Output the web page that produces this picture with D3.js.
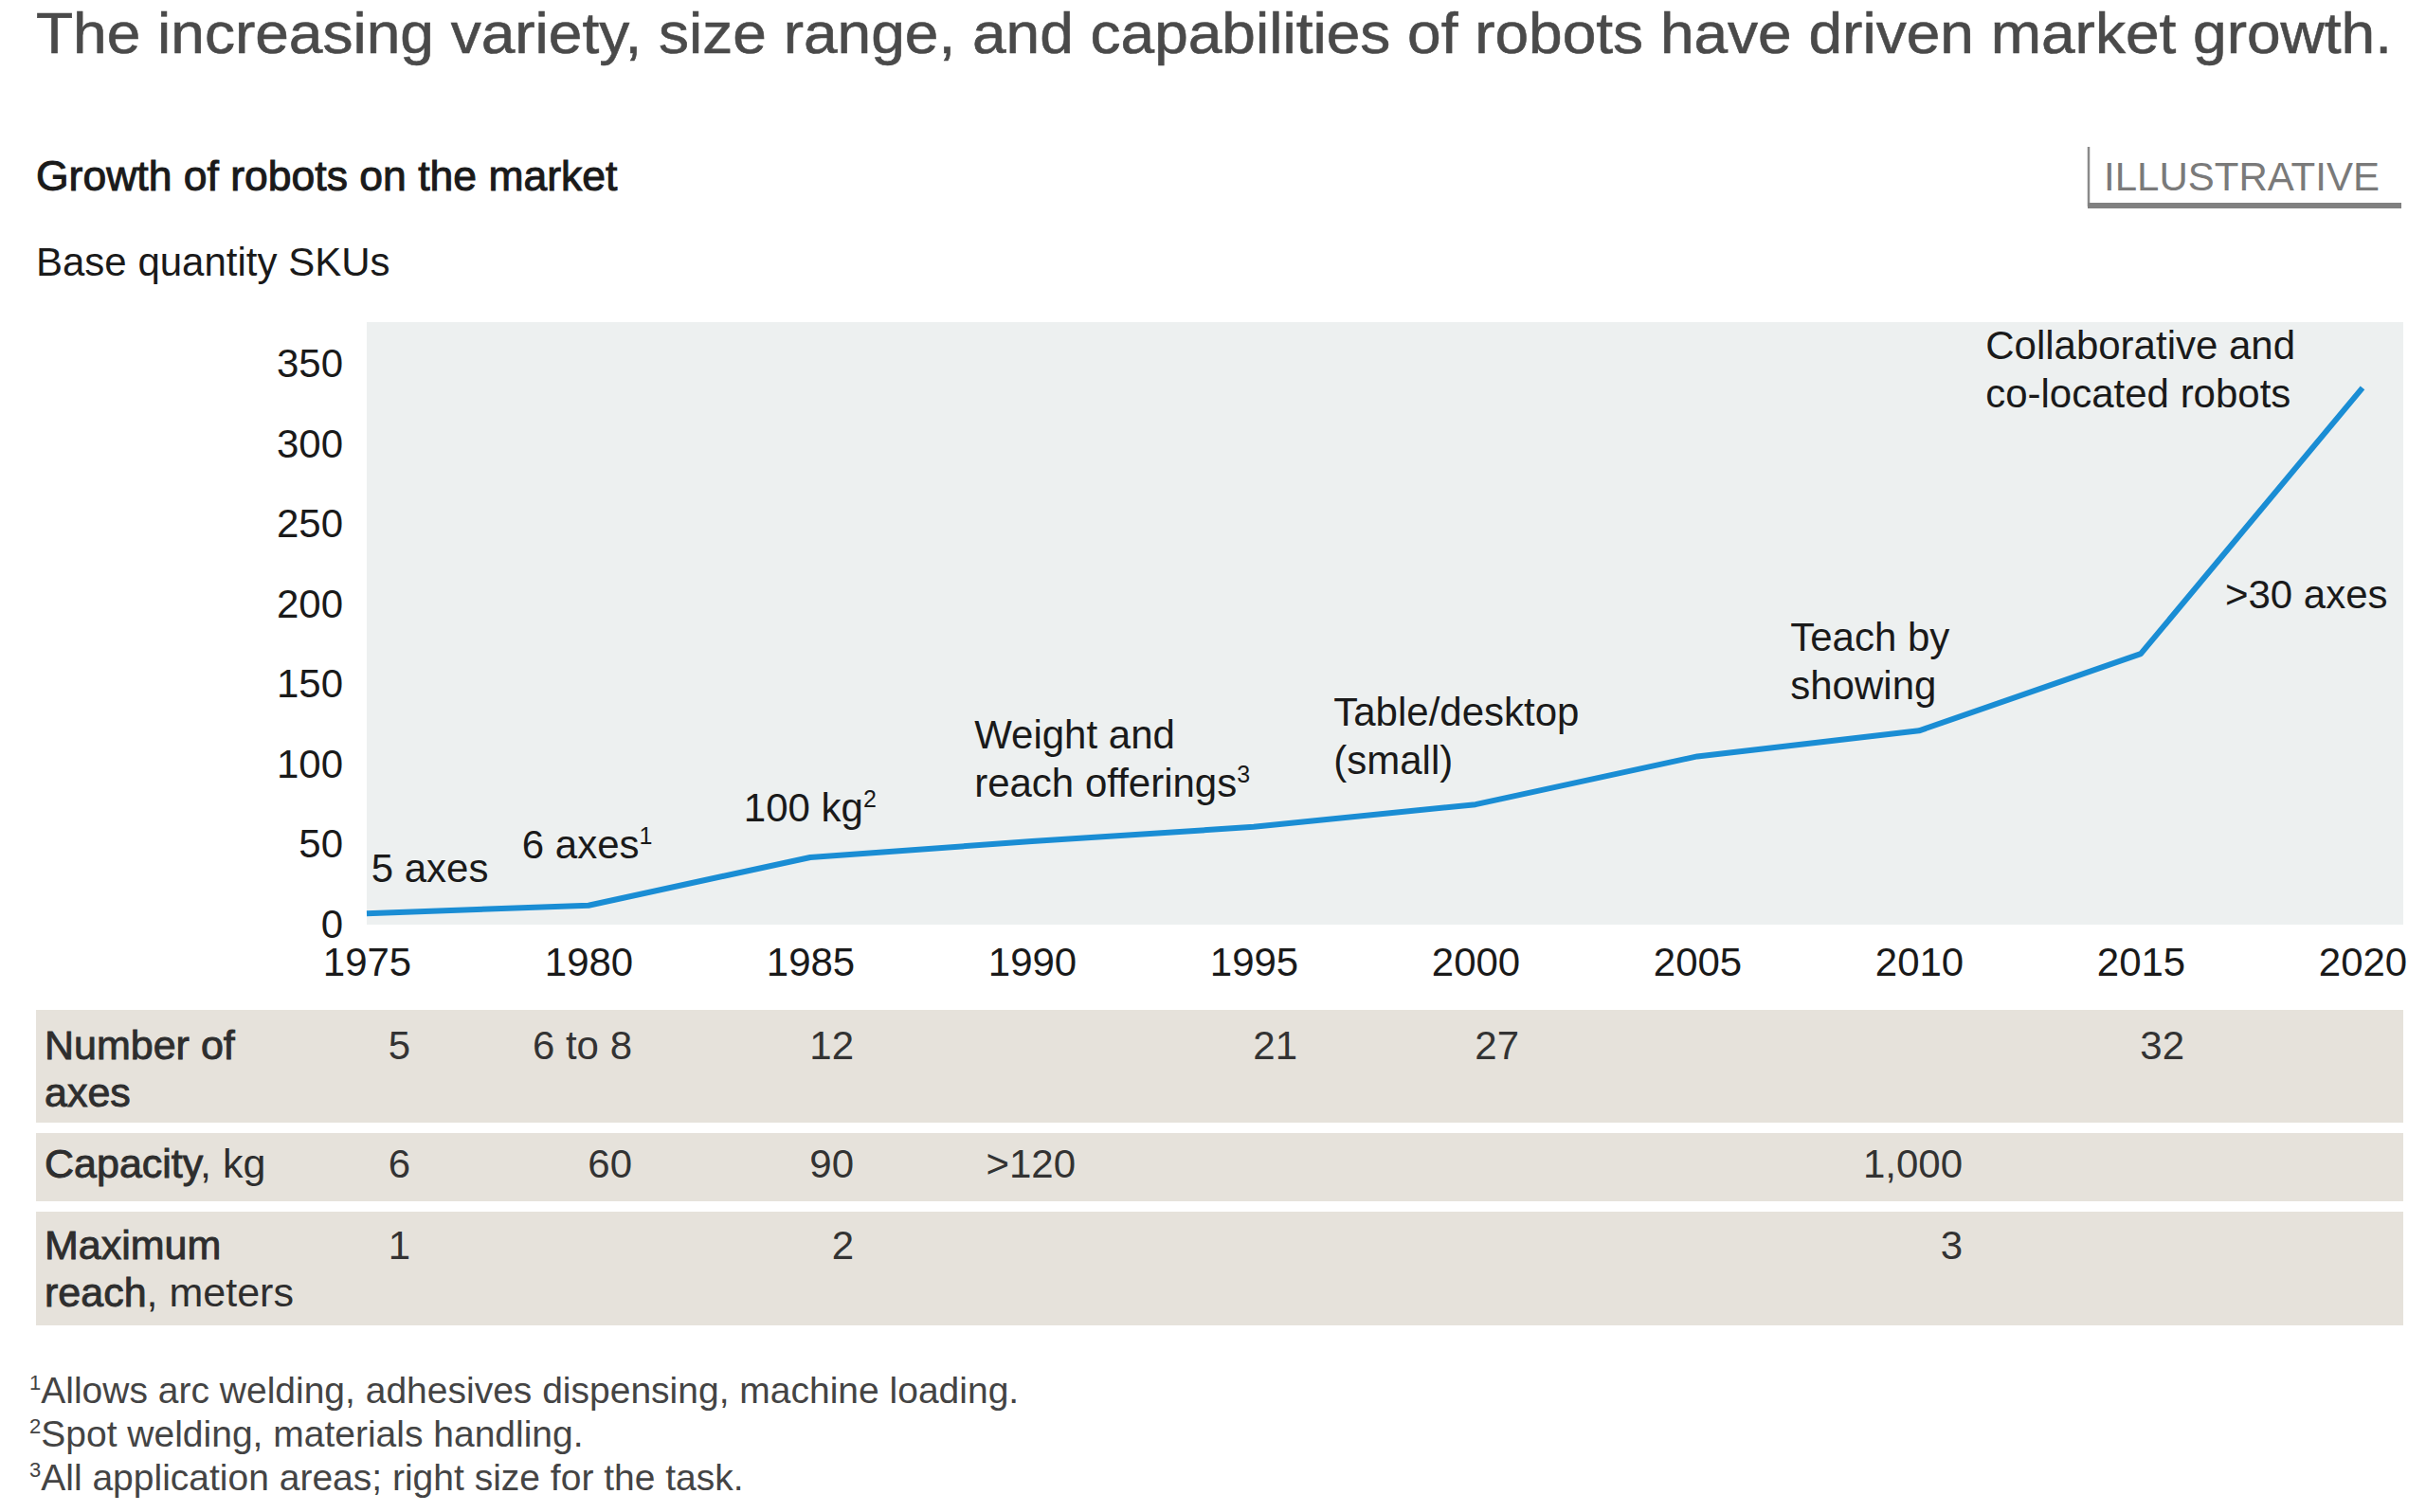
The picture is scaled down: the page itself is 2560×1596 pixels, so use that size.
<!DOCTYPE html>
<html>
<head>
<meta charset="utf-8">
<script src="https://cdn.jsdelivr.net/npm/d3@7"></script>
<style>
    body { margin: 0; background: #fff; }
    svg text { font-family: "Liberation Sans", Arial, Helvetica, sans-serif; }
</style>
</head>
<body>
<div id="chart"></div>
<script>
const years = [1975, 1980, 1985, 1990, 1995, 2000, 2005, 2010, 2015, 2020];
const skuCounts = [7, 12, 42, 52, 61, 75, 105, 121, 169, 335];
const yTicks = [0, 50, 100, 150, 200, 250, 300, 350];

const noteTexts = [
    { lines: ["5 axes"] },
    { lines: ["6 axes"], sup: "1" },
    { lines: ["100 kg"], sup: "2" },
    { lines: ["Weight and", "reach offerings"], sup: "3" },
    { lines: ["Table/desktop", "(small)"] },
    { lines: ["Teach by", "showing"] },
    { lines: [">30 axes"] },
    { lines: ["Collaborative and", "co-located robots"] }
];

const rowLabels = [
    [["Number of"], ["axes"]],
    [["Capacity", ", kg"]],
    [["Maximum"], ["reach", ", meters"]]
];
const axesCount = [[1975, "5"], [1980, "6 to 8"], [1985, "12"], [1995, "21"], [2000, "27"], [2015, "32"]];
const capacityKg = [[1975, "6"], [1980, "60"], [1985, "90"], [1990, ">120"], [2010, "1,000"]];
const reachMeters = [[1975, "1"], [1985, "2"], [2010, "3"]];

const footnotes = [
    ["1", "Allows arc welding, adhesives dispensing, machine loading."],
    ["2", "Spot welding, materials handling."],
    ["3", "All application areas; right size for the task."]
];

class RobotChart {
    constructor(_parentElement) {
        this.parentElement = _parentElement;
        this.initVis();
    }

    initVis() {
        const vis = this;
        vis.WIDTH = 2560;
        vis.HEIGHT = 1596;

        vis.svg = d3.select(vis.parentElement).append("svg")
            .attr("width", vis.WIDTH)
            .attr("height", vis.HEIGHT);

        vis.svg.append("rect")
            .attr("width", vis.WIDTH)
            .attr("height", vis.HEIGHT)
            .attr("fill", "#fff");

        // headings
        vis.svg.append("text")
            .attr("x", 38)
            .attr("y", 56)
            .attr("font-size", "61px")
            .attr("fill", "#4a4a4a")
            .attr("stroke", "#4a4a4a")
            .attr("stroke-width", 0.6)
            .attr("textLength", 2486)
            .attr("lengthAdjust", "spacingAndGlyphs")
            .text("The increasing variety, size range, and capabilities of robots have driven market growth.");

        vis.svg.append("text")
            .attr("x", 38)
            .attr("y", 201)
            .attr("font-size", "44.5px")
            .attr("fill", "#1a1a1a")
            .attr("stroke", "#1a1a1a")
            .attr("stroke-width", 1)
            .text("Growth of robots on the market");

        vis.svg.append("text")
            .attr("x", 38)
            .attr("y", 291)
            .attr("font-size", "42px")
            .attr("fill", "#1a1a1a")
            .text("Base quantity SKUs");

        const tag = vis.svg.append("g");
        tag.append("line")
            .attr("x1", 2204).attr("x2", 2204)
            .attr("y1", 155).attr("y2", 218)
            .attr("stroke", "#8a8a8a")
            .attr("stroke-width", 2.5);
        tag.append("line")
            .attr("x1", 2203).attr("x2", 2534)
            .attr("y1", 217).attr("y2", 217)
            .attr("stroke", "#808080")
            .attr("stroke-width", 6);
        tag.append("text")
            .attr("x", 2220)
            .attr("y", 201)
            .attr("font-size", "42px")
            .attr("fill", "#7a7a7a")
            .text("ILLUSTRATIVE");

        vis.x = d3.scaleLinear()
            .domain([1975, 2020])
            .range([387, 2493]);

        vis.y = d3.scaleLinear()
            .domain([0, 350])
            .range([976, 384]);

        vis.svg.append("rect")
            .attr("x", vis.x(1975))
            .attr("y", 340)
            .attr("width", 2536 - vis.x(1975))
            .attr("height", vis.y(0) - 340)
            .attr("fill", "#edf0f0");

        vis.drawAxes();
        vis.drawLine();
        vis.drawNotes();
        vis.drawTable();
        vis.drawFootnotes();
    }

    drawAxes() {
        const vis = this;

        const xAxisCall = d3.axisBottom(vis.x)
            .tickValues(years)
            .tickFormat(d3.format("d"))
            .tickSize(0)
            .tickPadding(24);
        const xAxisGroup = vis.svg.append("g")
            .attr("transform", `translate(0, ${vis.y(0)})`)
            .call(xAxisCall);

        const yAxisCall = d3.axisLeft(vis.y)
            .tickValues(yTicks)
            .tickSize(0)
            .tickPadding(25);
        const yAxisGroup = vis.svg.append("g")
            .attr("transform", `translate(${vis.x(1975)}, 0)`)
            .call(yAxisCall);

        [xAxisGroup, yAxisGroup].forEach(g => {
            g.select(".domain").remove();
            g.selectAll("text")
                .attr("font-size", "42px")
                .attr("font-family", "Liberation Sans, Arial, sans-serif")
                .attr("fill", "#1a1a1a");
        });
    }

    drawLine() {
        const vis = this;
        const points = years.map((yr, i) => [yr, skuCounts[i]]);

        const line = d3.line()
            .x(d => vis.x(d[0]))
            .y(d => vis.y(d[1]));

        vis.svg.append("path")
            .datum(points)
            .attr("d", line)
            .attr("fill", "none")
            .attr("stroke", "#1a8dd4")
            .attr("stroke-width", 6)
            .attr("stroke-linejoin", "round");
    }

    drawNotes() {
        const vis = this;
        // anchor of each note: [year, value at first baseline]
        const notePlacement = [
            [1975.1, 26.6], [1978.5, 41.4], [1983.5, 64.4], [1988.7, 110],
            [1996.8, 124], [2007.1, 171], [2016.9, 197.5], [2011.5, 353]
        ];

        noteTexts.forEach((note, i) => {
            const t = vis.svg.append("text")
                .attr("x", vis.x(notePlacement[i][0]))
                .attr("y", vis.y(notePlacement[i][1]))
                .attr("font-size", "42px")
                .attr("fill", "#1a1a1a");
            note.lines.forEach((ln, j) => {
                t.append("tspan")
                    .attr("x", vis.x(notePlacement[i][0]))
                    .attr("dy", j === 0 ? 0 : 51)
                    .text(ln);
            });
            if (note.sup) {
                t.append("tspan")
                    .attr("dy", -15)
                    .attr("font-size", "25px")
                    .text(note.sup);
            }
        });
    }

    drawTable() {
        const vis = this;
        const bands = [
            { y: 1066, h: 119, base: 1118 },
            { y: 1196, h: 72, base: 1243 },
            { y: 1279, h: 120, base: 1329 }
        ];
        const rowValues = [axesCount, capacityKg, reachMeters];

        bands.forEach((b, i) => {
            vis.svg.append("rect")
                .attr("x", 38)
                .attr("y", b.y)
                .attr("width", 2536 - 38)
                .attr("height", b.h)
                .attr("fill", "#e6e2db");

            const label = vis.svg.append("text")
                .attr("x", 47)
                .attr("y", b.base)
                .attr("font-size", "43px")
                .attr("fill", "#2e2e2e");
            rowLabels[i].forEach((parts, j) => {
                label.append("tspan")
                    .attr("x", 47)
                    .attr("dy", j === 0 ? 0 : 50)
                    .attr("stroke", "#2e2e2e")
                    .attr("stroke-width", 0.9)
                    .text(parts[0]);
                if (parts[1]) {
                    label.append("tspan").text(parts[1]);
                }
            });

            vis.svg.append("g")
                .selectAll("text")
                .data(rowValues[i])
                .enter().append("text")
                .attr("x", d => vis.x(d[0]) + 46)
                .attr("y", b.base)
                .attr("text-anchor", "end")
                .attr("font-size", "42px")
                .attr("fill", "#333")
                .text(d => d[1]);
        });
    }

    drawFootnotes() {
        const vis = this;
        footnotes.forEach((f, i) => {
            const t = vis.svg.append("text")
                .attr("x", 31)
                .attr("y", 1481 + i * 46)
                .attr("font-size", "39px")
                .attr("fill", "#444");
            t.append("tspan")
                .attr("dy", -14)
                .attr("font-size", "22px")
                .text(f[0]);
            t.append("tspan")
                .attr("dy", 14)
                .text(f[1]);
        });
    }
}

new RobotChart("#chart");
</script>
</body>
</html>
